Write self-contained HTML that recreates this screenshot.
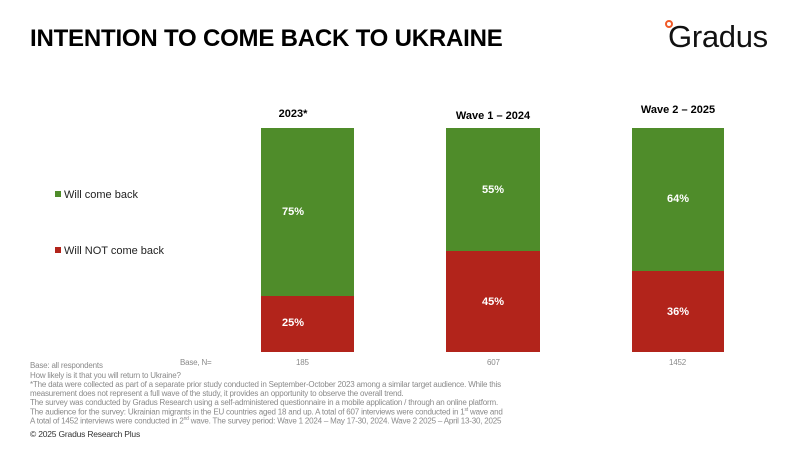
<!DOCTYPE html>
<html><head><style>
body{margin:0;width:800px;height:449px;background:#fff;position:relative;overflow:hidden;font-family:"Liberation Sans",Arial,sans-serif}
.a{position:absolute;white-space:nowrap}
.t{left:30px;top:25px;font-size:24px;font-weight:bold;color:#000;letter-spacing:-0.2px}
.h{font-size:11px;font-weight:bold;transform:translateX(-50%)}
.p{font-size:11px;font-weight:bold;color:#fff;transform:translateX(-50%)}
.g{background:#4f8c2a;position:absolute}
.r{background:#b2241b;position:absolute}
.f{font-size:8px;color:#8a8a8a;left:30px;letter-spacing:-0.2px}
.leg{font-size:11px;color:#222}
.sq{display:inline-block;width:6px;height:6px;margin-right:3px;vertical-align:1px}
</style></head><body>
<div class="a t">INTENTION TO COME BACK TO UKRAINE</div>
<div class="a" style="left:668px;top:19px;font-size:31px;color:#111;letter-spacing:-0.3px">Gradus</div>
<div class="a" style="left:665px;top:20px;width:4px;height:4px;border:2px solid #f05a28;border-radius:50%"></div>

<div class="a h" style="left:293px;top:108px">2023*</div>
<div class="a h" style="left:493px;top:110px">Wave 1 – 2024</div>
<div class="a h" style="left:678px;top:104px">Wave 2 – 2025</div>

<div class="g" style="left:261px;top:128px;width:93px;height:168px"></div>
<div class="r" style="left:261px;top:296px;width:93px;height:56px"></div>
<div class="g" style="left:446px;top:128px;width:94px;height:123px"></div>
<div class="r" style="left:446px;top:251px;width:94px;height:101px"></div>
<div class="g" style="left:632px;top:128px;width:92px;height:143px"></div>
<div class="r" style="left:632px;top:271px;width:92px;height:81px"></div>

<div class="a p" style="left:293px;top:206px">75%</div>
<div class="a p" style="left:293px;top:317px">25%</div>
<div class="a p" style="left:493px;top:184px">55%</div>
<div class="a p" style="left:493px;top:296px">45%</div>
<div class="a p" style="left:678px;top:193px">64%</div>
<div class="a p" style="left:678px;top:306px">36%</div>

<div class="a leg" style="left:55px;top:189px"><span class="sq" style="background:#4f8c2a"></span>Will come back</div>
<div class="a leg" style="left:55px;top:245px"><span class="sq" style="background:#b2241b"></span>Will NOT come back</div>

<div class="a f" style="top:361px">Base: all respondents</div>
<div class="a f" style="left:180px;top:358px">Base, N=</div>
<div class="a f" style="left:296px;top:358px">185</div>
<div class="a f" style="left:487px;top:358px">607</div>
<div class="a f" style="left:669px;top:358px">1452</div>
<div class="a f" style="top:371px">How likely is it that you will return to Ukraine?</div>
<div class="a f" style="top:380px">*The data were collected as part of a separate prior study conducted in September-October 2023 among a similar target audience. While this</div>
<div class="a f" style="top:389px">measurement does not represent a full wave of the study, it provides an opportunity to observe the overall trend.</div>
<div class="a f" style="top:398px">The survey was conducted by Gradus Research using a self-administered questionnaire in a mobile application / through an online platform.</div>
<div class="a f" style="top:407px">The audience for the survey: Ukrainian migrants in the EU countries aged 18 and up. A total of 607 interviews were conducted in 1<sup style="font-size:5px">st</sup> wave and</div>
<div class="a f" style="top:416px">A total of 1452 interviews were conducted in 2<sup style="font-size:5px">nd</sup> wave. The survey period: Wave 1 2024 – May 17-30, 2024. Wave 2 2025 – April 13-30, 2025</div>
<div class="a" style="left:30px;top:429px;font-size:8.5px;color:#333;letter-spacing:-0.2px">© 2025 Gradus Research Plus</div>
</body></html>
